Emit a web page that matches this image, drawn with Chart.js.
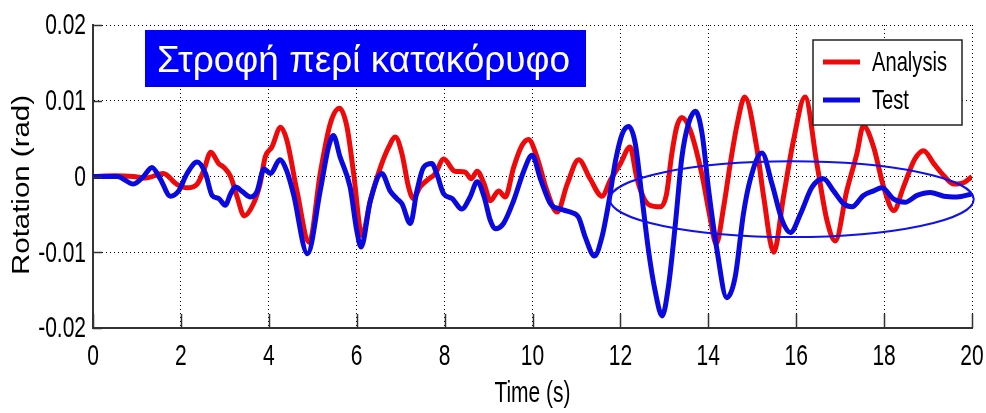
<!DOCTYPE html>
<html>
<head>
<meta charset="utf-8">
<script src="https://cdn.jsdelivr.net/npm/chart.js@4.4.1/dist/chart.umd.min.js"></script>
<style>
  html, body { margin: 0; padding: 0; background: #fff; }
  #wrap { width: 986px; height: 413px; position: relative; }
</style>
</head>
<body>
<div id="wrap"><canvas id="rot"></canvas></div>
<script>
// Rotation about the vertical axis: analysis vs. shake-table test
const TITLE = "Στροφή περί κατακόρυφο";
const X_LABEL = "Time (s)";
const Y_LABEL = "Rotation (rad)";
const SERIES_NAMES = ["Analysis", "Test"];
const X_TICKS = [0, 2, 4, 6, 8, 10, 12, 14, 16, 18, 20];
const Y_TICKS = [-0.02, -0.01, 0, 0.01, 0.02];

const analysisT = [0, 0.5, 0.92, 1.2, 1.6, 1.9, 2.14, 2.37, 2.52, 2.68, 2.86, 2.98, 3.13, 3.28, 3.44, 3.65, 3.8, 3.92, 4.07, 4.27, 4.41, 4.64, 4.92, 5.17, 5.4, 5.61, 5.78, 5.93, 6.12, 6.31, 6.54, 6.73, 6.88, 7.03, 7.18, 7.29, 7.44, 7.6, 7.79, 7.98, 8.23, 8.46, 8.61, 8.74, 8.9, 9.04, 9.23, 9.38, 9.57, 9.76, 9.91, 10.1, 10.33, 10.56, 10.79, 11.05, 11.31, 11.58, 11.77, 12.0, 12.22, 12.37, 12.52, 12.67, 12.9, 13.05, 13.16, 13.28, 13.4, 13.59, 13.85, 14.04, 14.18, 14.35, 14.5, 14.66, 14.83, 15.1, 15.26, 15.49, 15.71, 15.94, 16.2, 16.47, 16.7, 16.89, 17.15, 17.38, 17.53, 17.76, 17.99, 18.22, 18.44, 18.7, 18.9, 19.13, 19.36, 19.59, 19.82, 20];
const analysisV = [0, 0.0001, 0, -0.0002, 0.0004, -0.001, -0.0015, -0.001, 0.0008, 0.0032, 0.0017, 0.0012, 0, -0.0027, -0.0052, -0.0036, -0.001, 0.0026, 0.0039, 0.0065, 0.0048, -0.0019, -0.0087, 0.0004, 0.007, 0.009, 0.0065, 0.0004, -0.0078, -0.0032, 0.0012, 0.0039, 0.0052, 0.003, -0.0014, -0.0029, -0.0014, -0.0005, 0.0004, 0.0023, 0.0007, 0.0006, -0.0003, 0.0007, -0.001, -0.0032, -0.0019, -0.0027, 0.0012, 0.0041, 0.0049, 0.0026, -0.0019, -0.0047, -0.001, 0.0022, -0.0003, -0.0026, -0.0005, 0.0017, 0.0039, -0.0001, -0.0027, -0.0038, -0.004, -0.0023, 0.0026, 0.0065, 0.0078, 0.0061, 0.0004, -0.0054, -0.0089, -0.004, 0.0017, 0.007, 0.0105, 0.0039, -0.0027, -0.01, -0.0027, 0.0048, 0.0105, 0.0017, -0.0058, -0.0085, -0.0019, 0.003, 0.0067, 0.0039, -0.0014, -0.0045, -0.0014, 0.0023, 0.0034, 0.0017, 0.0001, -0.001, -0.0008, 0];

const testT = [0, 0.55, 0.92, 1.15, 1.34, 1.53, 1.76, 1.95, 2.14, 2.37, 2.56, 2.71, 2.86, 3.01, 3.13, 3.24, 3.4, 3.58, 3.73, 3.89, 4.04, 4.25, 4.41, 4.56, 4.88, 5.17, 5.36, 5.47, 5.62, 5.85, 6.0, 6.1, 6.31, 6.57, 6.76, 6.91, 7.03, 7.22, 7.37, 7.52, 7.71, 7.82, 7.98, 8.17, 8.39, 8.58, 8.74, 8.9, 9.04, 9.15, 9.34, 9.57, 9.8, 9.99, 10.18, 10.41, 10.63, 10.86, 11.05, 11.2, 11.41, 11.58, 11.73, 11.89, 12.04, 12.19, 12.34, 12.49, 12.64, 12.79, 12.95, 13.1, 13.25, 13.4, 13.55, 13.71, 13.86, 14.01, 14.2, 14.42, 14.61, 14.8, 14.95, 15.22, 15.45, 15.68, 15.87, 16.1, 16.36, 16.62, 16.85, 17.08, 17.27, 17.53, 17.76, 17.95, 18.22, 18.48, 18.75, 19.05, 19.36, 19.66, 20];
const testV = [0, 0, -0.001, 0, 0.0012, -0.0003, -0.0026, -0.0019, 0.0004, 0.0019, 0.0004, -0.0025, -0.0029, -0.0038, -0.0023, -0.0014, -0.002, -0.0027, -0.002, 0.001, 0.0004, 0.0022, 0.0007, -0.0023, -0.0102, -0.0019, 0.0039, 0.0054, 0.0026, -0.0014, -0.0071, -0.0093, -0.0032, 0.0004, -0.0019, -0.0029, -0.0036, -0.0062, -0.0019, 0.0012, 0.0017, 0.0004, -0.0023, -0.0029, -0.0043, -0.0027, -0.0007, -0.0027, -0.0058, -0.0069, -0.0062, -0.0032, 0.0007, 0.0028, -0.0003, -0.0036, -0.0043, -0.0047, -0.0054, -0.008, -0.0105, -0.008, -0.0036, 0.0021, 0.0056, 0.0066, 0.0043, -0.0027, -0.0098, -0.0151, -0.0184, -0.0142, -0.0063, 0.0026, 0.007, 0.0086, 0.0056, -0.0019, -0.0098, -0.016, -0.0133, -0.0049, -0.0005, 0.0031, -0.001, -0.0058, -0.0074, -0.0049, -0.0014, -0.0003, -0.0019, -0.0036, -0.004, -0.0025, -0.0019, -0.0015, -0.003, -0.0034, -0.0025, -0.0021, -0.0026, -0.0027, -0.0023];

// highlighted region: [centre t, centre value, half width (s), half height (rad)]
const HIGHLIGHT = [15.9, -0.003, 4.14, 0.005];

const RED = "#ee0a0a";
const BLUE = "#0a0ae0";
const SANS = "'Liberation Sans', Arial, sans-serif";
const SQUEEZE = 0.7; // axis text is set in a condensed face

function toPoints(ts, vs) {
  return ts.map((t, i) => ({ x: t, y: vs[i] }));
}

function fmtY(v) {
  return v === 0 ? "0" : (Math.round(v * 100) / 100).toFixed(2);
}

// condensed text: Liberation Sans squeezed horizontally
function squeezed(ctx, text, x, y, size, align, sx) {
  ctx.save();
  ctx.translate(x, y);
  ctx.scale(sx, 1);
  ctx.font = size + "px " + SANS;
  ctx.textAlign = align;
  ctx.textBaseline = "middle";
  ctx.fillStyle = "#000";
  ctx.fillText(text, 0, 0);
  ctx.restore();
}

const decor = {
  id: "decor",
  afterDraw(chart) {
    const { ctx, chartArea: a, scales } = chart;
    const x = scales.x, y = scales.y;
    ctx.save();

    // inward ticks on the left and bottom axes
    ctx.strokeStyle = "#333";
    ctx.lineWidth = 1.5;
    ctx.beginPath();
    X_TICKS.forEach((t) => {
      const px = Math.round(x.getPixelForValue(t)) + 0.5;
      ctx.moveTo(px, a.bottom);
      ctx.lineTo(px, a.bottom - 14);
    });
    Y_TICKS.forEach((v) => {
      const py = Math.round(y.getPixelForValue(v)) + 0.5;
      ctx.moveTo(a.left, py);
      ctx.lineTo(a.left + 9, py);
    });
    ctx.stroke();

    // tick labels
    X_TICKS.forEach((t) => squeezed(ctx, String(t), x.getPixelForValue(t), a.bottom + 29, 30, "center", SQUEEZE));
    Y_TICKS.forEach((v) => squeezed(ctx, fmtY(v), a.left - 7, y.getPixelForValue(v) + 1, 30, "right", SQUEEZE));

    // axis titles
    squeezed(ctx, X_LABEL, (a.left + a.right) / 2, 394, 30, "center", SQUEEZE);
    ctx.save();
    ctx.translate(22, 185);
    ctx.rotate(-Math.PI / 2);
    ctx.font = "29px " + SANS;
    ctx.textAlign = "center";
    ctx.textBaseline = "middle";
    ctx.fillStyle = "#000";
    ctx.scale(180 / ctx.measureText(Y_LABEL).width, 0.85);
    ctx.fillText(Y_LABEL, 0, 0);
    ctx.restore();

    // ellipse around the late response
    const [ct, cv, hw, hh] = HIGHLIGHT;
    const cx = x.getPixelForValue(ct), cy = y.getPixelForValue(cv);
    const rx = x.getPixelForValue(ct + hw) - cx;
    const ry = cy - y.getPixelForValue(cv + hh);
    ctx.strokeStyle = "#1010f0";
    ctx.lineWidth = 2;
    ctx.beginPath();
    ctx.ellipse(cx, cy, rx, ry, 0, 0, Math.PI * 2);
    ctx.stroke();

    // title box
    ctx.fillStyle = "#0000fa";
    ctx.fillRect(145, 30, 441, 57);
    ctx.fillStyle = "#fff";
    ctx.font = "37px " + SANS;
    ctx.textBaseline = "alphabetic";
    ctx.textAlign = "left";
    ctx.fillText(TITLE, 157, 72);

    // legend
    ctx.fillStyle = "#fff";
    ctx.fillRect(813, 40, 149, 85);
    ctx.strokeStyle = "#222";
    ctx.lineWidth = 1.5;
    ctx.strokeRect(813, 40, 149, 85);
    chart.data.datasets.forEach((ds, i) => {
      const ly = 62 + i * 38;
      ctx.strokeStyle = ds.borderColor;
      ctx.lineWidth = 5;
      ctx.beginPath();
      ctx.moveTo(823, ly);
      ctx.lineTo(860, ly);
      ctx.stroke();
      squeezed(ctx, ds.label, 872, ly + 1, 28, "left", 0.72);
    });
    ctx.restore();
  },
};

new Chart(document.getElementById("rot"), {
  type: "line",
  data: {
    datasets: [
      {
        label: SERIES_NAMES[0],
        data: toPoints(analysisT, analysisV),
        borderColor: RED,
        borderWidth: 5,
        pointRadius: 0,
        cubicInterpolationMode: "monotone",
        order: 2,
      },
      {
        label: SERIES_NAMES[1],
        data: toPoints(testT, testV),
        borderColor: BLUE,
        borderWidth: 5,
        pointRadius: 0,
        cubicInterpolationMode: "monotone",
        order: 1,
      },
    ],
  },
  options: {
    responsive: true,
    maintainAspectRatio: false,
    animation: false,
    layout: { padding: { top: 25, right: 14, left: 0, bottom: 0 } },
    plugins: { legend: { display: false }, tooltip: { enabled: false } },
    scales: {
      x: {
        type: "linear",
        min: 0,
        max: 20,
        afterFit(scale) { scale.height = 85; },
        afterBuildTicks(scale) { scale.ticks = X_TICKS.map((v) => ({ value: v })); },
        ticks: { display: false },
        grid: { color: "#000", lineWidth: 1, drawTicks: false },
        border: { display: true, color: "#333", width: 2, dash: [1, 3] },
      },
      y: {
        type: "linear",
        min: -0.02,
        max: 0.02,
        afterFit(scale) { scale.width = 93; },
        afterBuildTicks(scale) { scale.ticks = Y_TICKS.map((v) => ({ value: v })); },
        ticks: { display: false },
        grid: { color: "#000", lineWidth: 1, drawTicks: false },
        border: { display: true, color: "#333", width: 2, dash: [1, 3] },
      },
    },
  },
  plugins: [decor],
});
</script>
</body>
</html>
